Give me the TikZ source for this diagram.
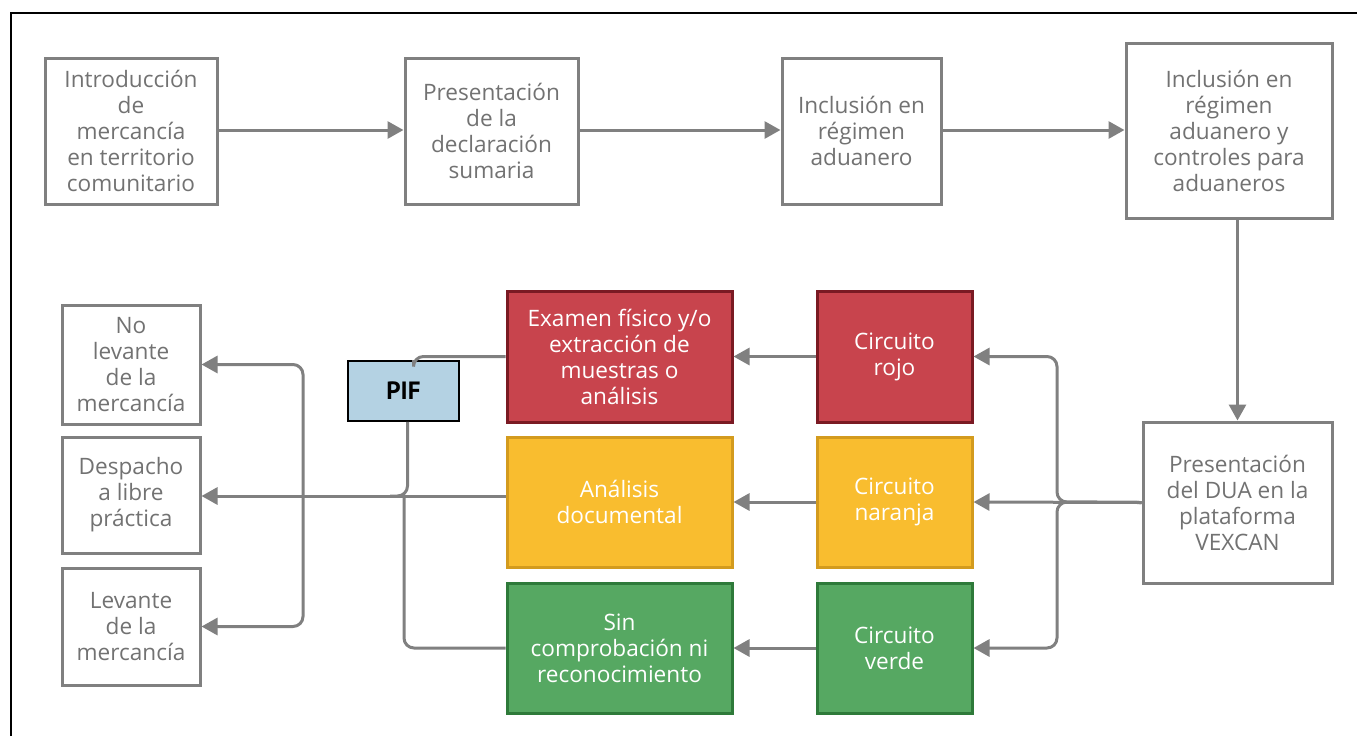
\documentclass[tikz,border=0pt]{standalone}
\usepackage{fontspec}
\setmainfont{Open Sans}
\newfontfamily\piffont{PT Sans}
\usetikzlibrary{arrows.meta}
\definecolor{lineagray}{HTML}{808080}
\definecolor{textogray}{HTML}{727272}
\definecolor{rojofill}{HTML}{C8444D}
\definecolor{rojoborde}{HTML}{7A1A23}
\definecolor{naranjafill}{HTML}{F9BD2F}
\definecolor{naranjaborde}{HTML}{D39B1E}
\definecolor{verdefill}{HTML}{56A862}
\definecolor{verdeborde}{HTML}{2E7A3A}
\definecolor{piffill}{HTML}{B4D2E3}
\tikzset{
  caja/.style={draw=lineagray,line width=1.5pt,fill=white,text=textogray,align=center,
    font=\fontsize{11.3}{13}\selectfont,inner sep=0pt},
  circuito/.style={caja,text=white},
  rojo/.style={circuito,fill=rojofill,draw=rojoborde},
  naranja/.style={circuito,fill=naranjafill,draw=naranjaborde},
  verde/.style={circuito,fill=verdefill,draw=verdeborde},
  linea/.style={draw=lineagray,line width=1.5pt,rounded corners=5pt},
  flecha/.style={linea,-{Triangle[length=8pt,width=8.5pt]}}
}
\begin{document}
\begin{tikzpicture}[x=0.5pt,y=-0.5pt]
			\useasboundingbox (0,0) rectangle (1357,736);
			% marco
			\draw[line width=1pt] (10.5,736) -- (10.5,12.5) -- (1357,12.5);
			% fila superior
			\node[caja,minimum width=86pt,minimum height=73pt] (intro) at (131,131) {Introducción\\de\\mercancía\\en territorio\\comunitario};
			\node[caja,minimum width=86.5pt,minimum height=73pt] (sumaria) at (491.5,131) {Presentación\\de la\\declaración\\sumaria};
			\node[caja,minimum width=79.5pt,minimum height=73pt] (regimen) at (861.5,131) {Inclusión en\\régimen\\aduanero};
			\node[caja,minimum width=103pt,minimum height=87.5pt] (controles) at (1229,130.5) {Inclusión en\\régimen\\aduanero y\\controles para\\aduaneros};
			\node[caja,minimum width=94.5pt,minimum height=80.5pt] (dua) at (1237.5,502.5) {Presentación\\del DUA en la\\plataforma\\VEXCAN};
			% circuitos
			\node[rojo,minimum width=77.5pt,minimum height=65.5pt] (crojo) at (894.5,356.5) {Circuito\\rojo};
			\node[naranja,minimum width=77.5pt,minimum height=65pt] (cnaranja) at (894.5,502) {Circuito\\naranja};
			\node[verde,minimum width=77.5pt,minimum height=65pt] (cverde) at (894.5,648) {Circuito\\verde};
			\node[rojo,minimum width=112.5pt,minimum height=65.5pt] (examen) at (619.5,356.5) {Examen físico y/o\\extracción de\\muestras o\\análisis};
			\node[naranja,minimum width=112.5pt,minimum height=65pt] (analisis) at (619.5,502) {Análisis\\documental};
			\node[verde,minimum width=112.5pt,minimum height=65pt] (sincomp) at (619.5,648) {Sin\\comprobación ni\\reconocimiento};
			\node[draw=black,line width=0.8pt,fill=piffill,minimum width=55.5pt,minimum height=30pt,
			  font=\piffont\bfseries\fontsize{12.5}{14}\selectfont] (pif) at (403.5,391) {PIF};
			% resultados
			\node[caja,minimum width=69pt,minimum height=59.5pt] (nolevante) at (131,364.5) {No\\levante\\de la\\mercancía};
			\node[caja,minimum width=69pt,minimum height=58pt] (despacho) at (131,495) {Despacho\\a libre\\práctica};
			\node[caja,minimum width=69pt,minimum height=58.5pt] (levante) at (131,626.5) {Levante\\de la\\mercancía};
			% conectores
			\coordinate (jdua) at (1057,502);
			\coordinate (jpif) at (390,496);
			\coordinate (jsin) at (404,496);
			\coordinate (jsal) at (303,496);
			\draw[flecha] (intro.east |- 0,130) -- (sumaria.west |- 0,130);
			\draw[flecha] (sumaria.east |- 0,130) -- (regimen.west |- 0,130);
			\draw[flecha] (regimen.east |- 0,130) -- (controles.west |- 0,130);
			\draw[flecha] (controles.south -| dua.north) -- (dua.north);
			\draw[flecha] (dua.west) -- (cnaranja.east);
			\draw[flecha] (dua.west) -- (jdua) |- (crojo.east);
			\draw[flecha] (dua.west) -- (jdua) |- (cverde.east);
			\draw[flecha] (crojo.west) -- (examen.east);
			\draw[flecha] (cnaranja.west) -- (analisis.east);
			\draw[flecha] (cverde.west) -- (sincomp.east);
			\draw[linea] (examen.west) -| ([xshift=5pt]pif.north);
			\draw[linea] ([xshift=2pt]pif.south) |- (jpif);
			\draw[linea] (sincomp.west) -| (jsin);
			\draw[flecha] (analisis.west |- 0,496) -- (despacho.east |- 0,496);
			\draw[flecha] (jsal) |- (nolevante.east);
			\draw[flecha] (jsal) |- (levante.east);
\end{tikzpicture}
\end{document}
